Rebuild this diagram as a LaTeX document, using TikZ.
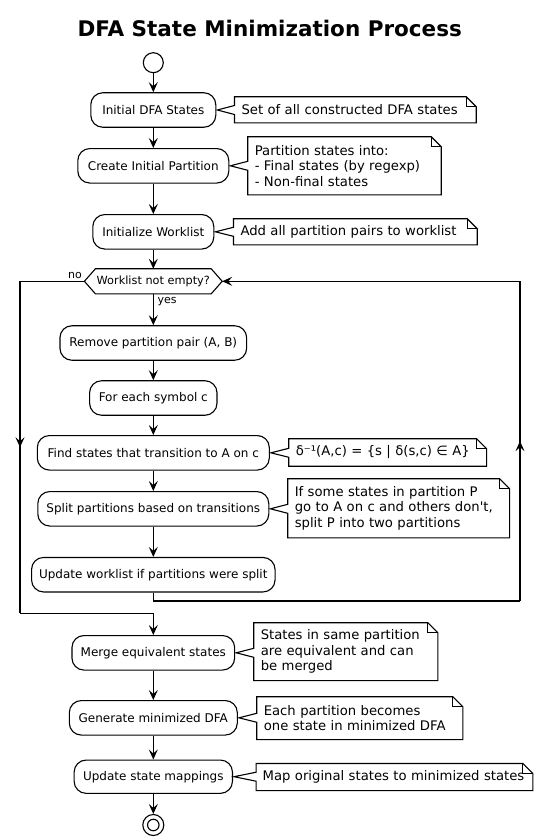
\documentclass[tikz,border=0pt]{standalone}
\usepackage{fontspec}
\setmainfont{DejaVu Sans}
\usetikzlibrary{arrows.meta,calc,decorations.markings}
\newcommand\drawnote[2]{%
  \draw (#1.north west) -- ([xshift=-10pt]#1.north east) -- ([yshift=-10pt]#1.north east)
    -- (#1.south east) -- (#1.south west)
    -- ($(#1.west |- #2.east)+(0,4.5)$) -- ([xshift=1pt]#2.east)
    -- ($(#1.west |- #2.east)+(0,-4.5)$) -- cycle;
  \draw ([xshift=-10pt]#1.north east) |- ([yshift=-10pt]#1.north east);}
\begin{document}
\begin{tikzpicture}[x=1pt,y=-1pt,line width=1.1pt,
  act/.style={draw, rounded corners=12pt, minimum height=34.5pt, inner sep=0pt,
    font=\fontsize{12}{14}\selectfont},
  notetxt/.style={align=left, inner xsep=6.5pt, inner ysep=0pt,
    font=\fontsize{13.2}{15.3}\selectfont},
  flow/.style={-{Stealth[length=10pt,width=9pt,inset=4pt]}},
  midarrow/.style={postaction={decorate}, decoration={markings,
    mark=at position 0.5 with {\arrow{Stealth[length=10pt,width=9pt,inset=4pt]}}}},
  lbl/.style={font=\fontsize{11}{13}\selectfont, inner sep=0pt}]
\useasboundingbox (0,0) rectangle (542,840);

% title
\node[font=\bfseries\fontsize{21.5}{24}\selectfont, anchor=base] (title) at (269.7,37) {DFA State Minimization Process};

% start / end
\node[circle, draw, minimum size=20pt, inner sep=0pt] (start) at (153.3,62.7) {};
\node[circle, draw, minimum size=21pt, inner sep=0pt] (end) at (153.3,825) {};
\node[circle, draw, minimum size=11.5pt, inner sep=0pt] (endin) at (end) {};

% activities
\node[act, minimum width=125pt] (b1) at (153.3,110) {Initial DFA States};
\node[act, minimum width=151pt] (b2) at (153.3,165.8) {Create Initial Partition};
\node[act, minimum width=121pt] (b3) at (153.3,231.8) {Initialize Worklist};
\node[font=\fontsize{11.3}{13}\selectfont, minimum width=114.7pt, minimum height=24pt, inner sep=0pt] (dec) at (153.3,281.3) {Worklist not empty?};
\coordinate (decL) at ($(dec.west)+(-11,0)$);
\coordinate (decR) at ($(dec.east)+(11,0)$);
\draw (dec.north west) -- (dec.north east) -- (decR) -- (dec.south east) -- (dec.south west) -- (decL) -- cycle;
\node[act, minimum width=186.7pt] (b4) at (153.3,343) {Remove partition pair (A, B)};
\node[act, minimum width=127.4pt] (b5) at (153.3,398) {For each symbol c};
\node[act, minimum width=232pt] (b6) at (153.3,452.8) {Find states that transition to A on c};
\node[act, minimum width=231pt] (b7) at (153.3,508.8) {Split partitions based on transitions};
\node[act, minimum width=243.5pt] (b8) at (153.3,574.7) {Update worklist if partitions were split};
\node[act, minimum width=162.7pt] (b9) at (153.3,652.8) {Merge equivalent states};
\node[act, minimum width=168pt] (b10) at (153.3,717.8) {Generate minimized DFA};
\node[act, minimum width=158.3pt, minimum height=33.3pt] (b11) at (153.3,776.7) {Update state mappings};

% labels
\node[lbl, anchor=base east] (no) at ($(decL)+(-2,-2.6)$) {no};
\node[lbl, anchor=base west] (yes) at ($(dec.south)+(3.7,10)$) {yes};

% notes
\node[notetxt, minimum width=240.7pt, minimum height=25pt, text width=227.7pt] (n1) at (355.35,109.8) {Set of all constructed DFA states};
\node[notetxt, minimum width=192.4pt, minimum height=57pt, text width=179.4pt] (n2) at (344.5,165.8) {Partition states into:\\- Final states (by regexp)\\- Non-final states};
\node[notetxt, minimum width=242.7pt, minimum height=25pt, text width=229.7pt] (n3) at (355.35,231.8) {Add all partition pairs to worklist};
\node[notetxt, minimum width=196.7pt, minimum height=26.4pt, text width=183.7pt] (n4) at (387.65,452.5) {δ⁻¹(A,c) = \{s | δ(s,c) ∈ A\}};
\node[notetxt, minimum width=220.7pt, minimum height=58pt, text width=207.7pt] (n5) at (398.65,508.3) {If some states in partition P\\go to A on c and others don\textquotesingle t,\\split P into two partitions};
\node[notetxt, minimum width=183pt, minimum height=56.7pt, text width=170pt] (n6) at (345.8,651.65) {States in same partition\\are equivalent and can\\be merged};
\node[notetxt, minimum width=205pt, minimum height=41.7pt, text width=192pt] (n7) at (359.8,718.15) {Each partition becomes\\one state in minimized DFA};
\node[notetxt, minimum width=275.6pt, minimum height=26pt, text width=263.6pt, inner xsep=6pt] (n8) at (394.5,777) {Map original states to minimized states};

\drawnote{n1}{b1}
\drawnote{n2}{b2}
\drawnote{n3}{b3}
\drawnote{n4}{b6}
\drawnote{n5}{b7}
\drawnote{n6}{b9}
\drawnote{n7}{b10}
\drawnote{n8}{b11}

% flow
\draw[flow] (start) -- (b1);
\draw[flow] (b1) -- (b2);
\draw[flow] (b2) -- (b3);
\draw[flow] (b3) -- (dec);
\draw[flow] (dec) -- (b4);
\draw[flow] (b4) -- (b5);
\draw[flow] (b5) -- (b6);
\draw[flow] (b6) -- (b7);
\draw[flow] (b7) -- (b8);

% loop back
\coordinate (rb) at (520,601);
\coordinate (rt) at (rb |- decR);
\draw (b8.south) |- (rb);
\draw[midarrow] (rb) -- (rt);
\draw[flow] (rt) -- (decR);

% exit
\coordinate (lt) at (20,281.3);
\coordinate (lb) at (20,613.3);
\draw (decL) -- (lt);
\draw[midarrow] (lt) -- (lb);
\draw[flow] (lb) -| (b9.north);

\draw[flow] (b9) -- (b10);
\draw[flow] (b10) -- (b11);
\draw[flow] (b11) -- (end);
\end{tikzpicture}
\end{document}
